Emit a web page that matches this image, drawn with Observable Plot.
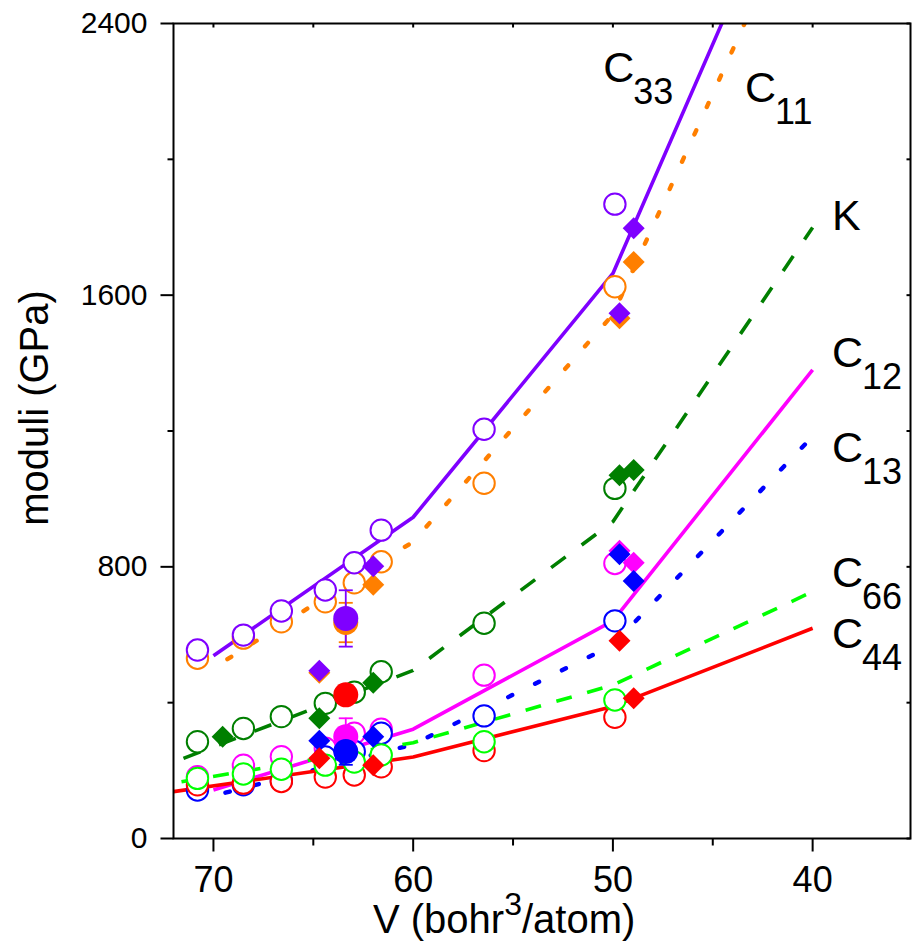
<!DOCTYPE html>
<html><head><meta charset="utf-8">
<script src="https://cdn.jsdelivr.net/npm/d3@7"></script>
<script src="https://cdn.jsdelivr.net/npm/@observablehq/plot@0.6"></script>
<style>
html,body{margin:0;padding:0;background:#fff;}
#chart{width:912px;height:947px;}
</style></head><body><div id="chart"></div>
<script>
// ---------- data ----------
const seriesNames  = ["C11", "C33", "K", "C12", "C13", "C44", "C66"];
const seriesColors = ["#ff7f00", "#7f00ff", "#007f00", "#ff00ff", "#0000ff", "#ff0000", "#00ff00"];
const seriesDash   = ["4.5 25.5", null, "18 20", null, "4.5 25.5", null, "16 16"];

// computed moduli (open circles)
const calcV   = [70.8, 68.5, 66.6, 64.4, 62.95, 61.6, 56.45, 49.9];
const calcC11 = [531, 590, 638, 697, 753, 815, 1046, 1625];
const calcC33 = [555, 599, 670, 732, 812, 908, 1205, 1868];
const calcK   = [285, 324, 359, 398, 431, 491, 634, 1031];
const calcC12 = [182, 216, 241, 266, 310, 322, 481, 810];
const calcC13 = [143, 158, 170, 240, 256, 310, 361, 641];
const calcC44 = [158, 163, 168, 181, 187, 211, 259, 357];
const calcC66 = [177, 190, 204, 216, 225, 246, 285, 408];

// model curves
const lineC11V = [69.3, 60, 50, 40]; const lineC11 = [528, 874, 1543, 2843];
const lineC33V = [70, 60, 50, 40];   const lineC33 = [538, 946, 1664, 3014];
const lineKV   = [71.5, 60, 50, 40]; const lineK   = [236, 495, 933, 1799];
const lineC12V = [70, 60, 50, 40];   const lineC12 = [143, 322, 641, 1380];
const lineC13V = [69.4, 60, 50, 40]; const lineC13 = [135, 277, 570, 1184];
const lineC44V = [72, 60, 50, 40];   const lineC44 = [138, 240, 389, 619];
const lineC66V = [71.6, 60, 50, 40]; const lineC66 = [167, 282, 452, 727];

// experimental data (filled diamonds)
const expV   = [69.54, 64.7, 62.0, 49.67, 48.96];
const expC11 = [null, 488, 747, 1532, 1698];
const expC33 = [null, 494, 802, 1547, 1797];
const expK   = [300, 354, 459, 1070, 1085];
const expC12 = [null, null, null, 847, 812];
const expC13 = [null, 288, 300, 837, 758];
const expC44 = [null, 236, 216, 582, 413];
const expC66 = [null, null, null, null, null];

// measurement with error bars (filled circles)
const measV      = 63.375;
const measSeries = ["C11", "C33", "C44", "C12", "C13"];
const measVal    = [636, 648, 423, 300, 256];
const measErr    = [58, 83, 0, 54, 39];

// labels
const labelMain = ["C", "C", "K", "C", "C", "C", "C"];
const labelSub  = ["11", "33", "", "12", "13", "44", "66"];
const labelV    = [43.38, 50.48, 39.03, 39.03, 39.03, 39.03, 39.03];
const labelY    = [2169, 2228, 1792, 1388, 1109, 561, 741];

// ticks
const xMajor = [70, 60, 50, 40];
const xMinor = [65, 55, 45];
const yMajor = [0, 800, 1600, 2400];
const yMinor = [400, 1200, 2000];

// ---------- build tables ----------
const calcVals = {C11: calcC11, C33: calcC33, K: calcK, C12: calcC12, C13: calcC13, C44: calcC44, C66: calcC66};
const lineVs   = {C11: lineC11V, C33: lineC33V, K: lineKV, C12: lineC12V, C13: lineC13V, C44: lineC44V, C66: lineC66V};
const lineVals = {C11: lineC11, C33: lineC33, K: lineK, C12: lineC12, C13: lineC13, C44: lineC44, C66: lineC66};
const expVals  = {C11: expC11, C33: expC33, K: expK, C12: expC12, C13: expC13, C44: expC44, C66: expC66};
const colorOf = Object.fromEntries(seriesNames.map((s, i) => [s, seriesColors[i]]));

const calcRows = seriesNames.flatMap(s => calcV.map((v, i) => ({s, v, y: calcVals[s][i]})));
const expRows  = seriesNames.flatMap(s => expV.map((v, i) => ({s, v, y: expVals[s][i]})).filter(d => d.y != null));
const measRows = measSeries.map((s, i) => ({s, v: measV, y: measVal[i], lo: measVal[i] - measErr[i], hi: measVal[i] + measErr[i], e: measErr[i]}));
const errRows  = measRows.filter(d => d.e > 0);
const labelRows = seriesNames.map((s, i) => ({s, v: labelV[i], y: labelY[i], main: labelMain[i], sub: labelSub[i]}));

// ---------- symbols ----------
const seg = (x1, y1, x2, y2) => ({draw(ctx) { ctx.moveTo(x1, y1); ctx.lineTo(x2, y2); }});
const diamondSym = {draw(ctx, size) { const r = Math.sqrt(size / Math.PI);
  ctx.moveTo(0, -r); ctx.lineTo(r, 0); ctx.lineTo(0, r); ctx.lineTo(-r, 0); ctx.closePath(); }};
const capSym = {draw(ctx, size) { const r = Math.sqrt(size / Math.PI); ctx.moveTo(-r, 0); ctx.lineTo(r, 0); }};

// ---------- marks ----------
const lineMarks = seriesNames.map((s, k) => {
  const dash = seriesDash[k];
  const dotted = dash && dash.startsWith("4.5");
  return Plot.line(lineVs[s].map((v, i) => ({v, y: lineVals[s][i]})), {
    x: "v", y: "y", stroke: seriesColors[k], strokeWidth: dotted ? 4.4 : 3.6,
    strokeDasharray: dash || undefined, strokeLinecap: dotted ? "round" : "butt", clip: true
  });
});

const calcMarks = seriesNames.map(s => Plot.dot(calcRows.filter(d => d.s === s), {
  x: "v", y: "y", r: 10.7, fill: "white", stroke: colorOf[s], strokeWidth: 2
}));

const expMarks = seriesNames.map(s => Plot.dot(expRows.filter(d => d.s === s), {
  x: "v", y: "y", r: 11, symbol: diamondSym, fill: colorOf[s], stroke: "none"
}));

const errMarks = measSeries.filter(s => errRows.some(d => d.s === s)).flatMap(s => {
  const rows = errRows.filter(d => d.s === s);
  return [
    Plot.ruleX(rows, {x: "v", y1: "lo", y2: "hi", stroke: colorOf[s], strokeWidth: 1.8}),
    Plot.dot(rows, {x: "v", y: "lo", r: 7, symbol: capSym, stroke: colorOf[s], strokeWidth: 1.8, fill: "none"}),
    Plot.dot(rows, {x: "v", y: "hi", r: 7, symbol: capSym, stroke: colorOf[s], strokeWidth: 1.8, fill: "none"})
  ];
});

const measMarks = measSeries.map(s => Plot.dot(measRows.filter(d => d.s === s), {
  x: "v", y: "y", r: 12.5, fill: colorOf[s], stroke: "none"
}));

const tickOpts = {stroke: "black", strokeWidth: 2, fill: "none"};
const tickMarks = [
  Plot.dot(xMajor, {x: d => d, y: () => 0, symbol: seg(0, 0, 0, 13), ...tickOpts}),
  Plot.dot(xMinor, {x: d => d, y: () => 0, symbol: seg(0, 0, 0, 7), ...tickOpts}),
  Plot.dot(xMajor.concat(xMinor), {x: d => d, y: () => 2400, symbol: seg(0, 0, 0, 4), ...tickOpts}),
  Plot.dot(yMajor, {x: () => 72, y: d => d, symbol: seg(0, 0, -13, 0), ...tickOpts}),
  Plot.dot(yMinor, {x: () => 72, y: d => d, symbol: seg(0, 0, -6, 0), ...tickOpts}),
  Plot.dot(yMajor.concat(yMinor), {x: () => 35.1, y: d => d, symbol: seg(0, 0, -4, 0), ...tickOpts})
];

const tickLabels = [
  Plot.text(xMajor, {x: d => d, text: d => String(d), frameAnchor: "bottom", lineAnchor: "bottom", dy: 53, fontSize: 36, fill: "black"}),
  Plot.text(yMajor, {y: d => d, text: d => String(d), frameAnchor: "left", textAnchor: "end", dx: -26, fontSize: 30, fill: "black", ariaLabel: "ytick-label"})
];

const seriesLabels = [
  Plot.text(labelRows, {x: "v", y: "y", text: "main", textAnchor: "start", lineAnchor: "bottom", fontSize: 43, fill: "black"}),
  Plot.text(labelRows.filter(d => d.sub), {x: "v", y: "y", text: "sub", textAnchor: "start", lineAnchor: "bottom", dx: 30, dy: 22, fontSize: 36, fill: "black"})
];

const chart = Plot.plot({
  width: 912, height: 947,
  marginLeft: 173, marginRight: 2, marginTop: 23, marginBottom: 109,
  style: {fontFamily: "'Liberation Sans', Arial, sans-serif", background: "white", overflow: "visible"},
  x: {domain: [72, 35.1], axis: null},
  y: {domain: [0, 2400], axis: null},
  marks: [
    ...lineMarks,
    ...calcMarks,
    ...expMarks,
    ...errMarks,
    ...measMarks,
    Plot.frame({stroke: "black", strokeWidth: 2}),
    ...tickMarks,
    ...tickLabels,
    ...seriesLabels
  ]
});
document.getElementById("chart").appendChild(chart);

// axis titles and tick label styling
const svg = d3.select(chart.tagName.toLowerCase() === "svg" ? chart : chart.querySelector("svg"));
svg.selectAll('g[aria-label="ytick-label"] text').style("letter-spacing", "2.8px");
svg.append("text")
  .attr("transform", "translate(48,408) rotate(-90)")
  .attr("text-anchor", "middle")
  .attr("font-size", 40)
  .attr("fill", "black")
  .text("moduli (GPa)");
const xl = svg.append("text").attr("x", 373).attr("y", 933)
  .attr("text-anchor", "start").attr("font-size", 40).attr("fill", "black");
xl.append("tspan").text("V (bohr");
xl.append("tspan").attr("font-size", 32).attr("dy", -18).text("3");
xl.append("tspan").attr("dy", 18).text("/atom)");
</script>
</body></html>
